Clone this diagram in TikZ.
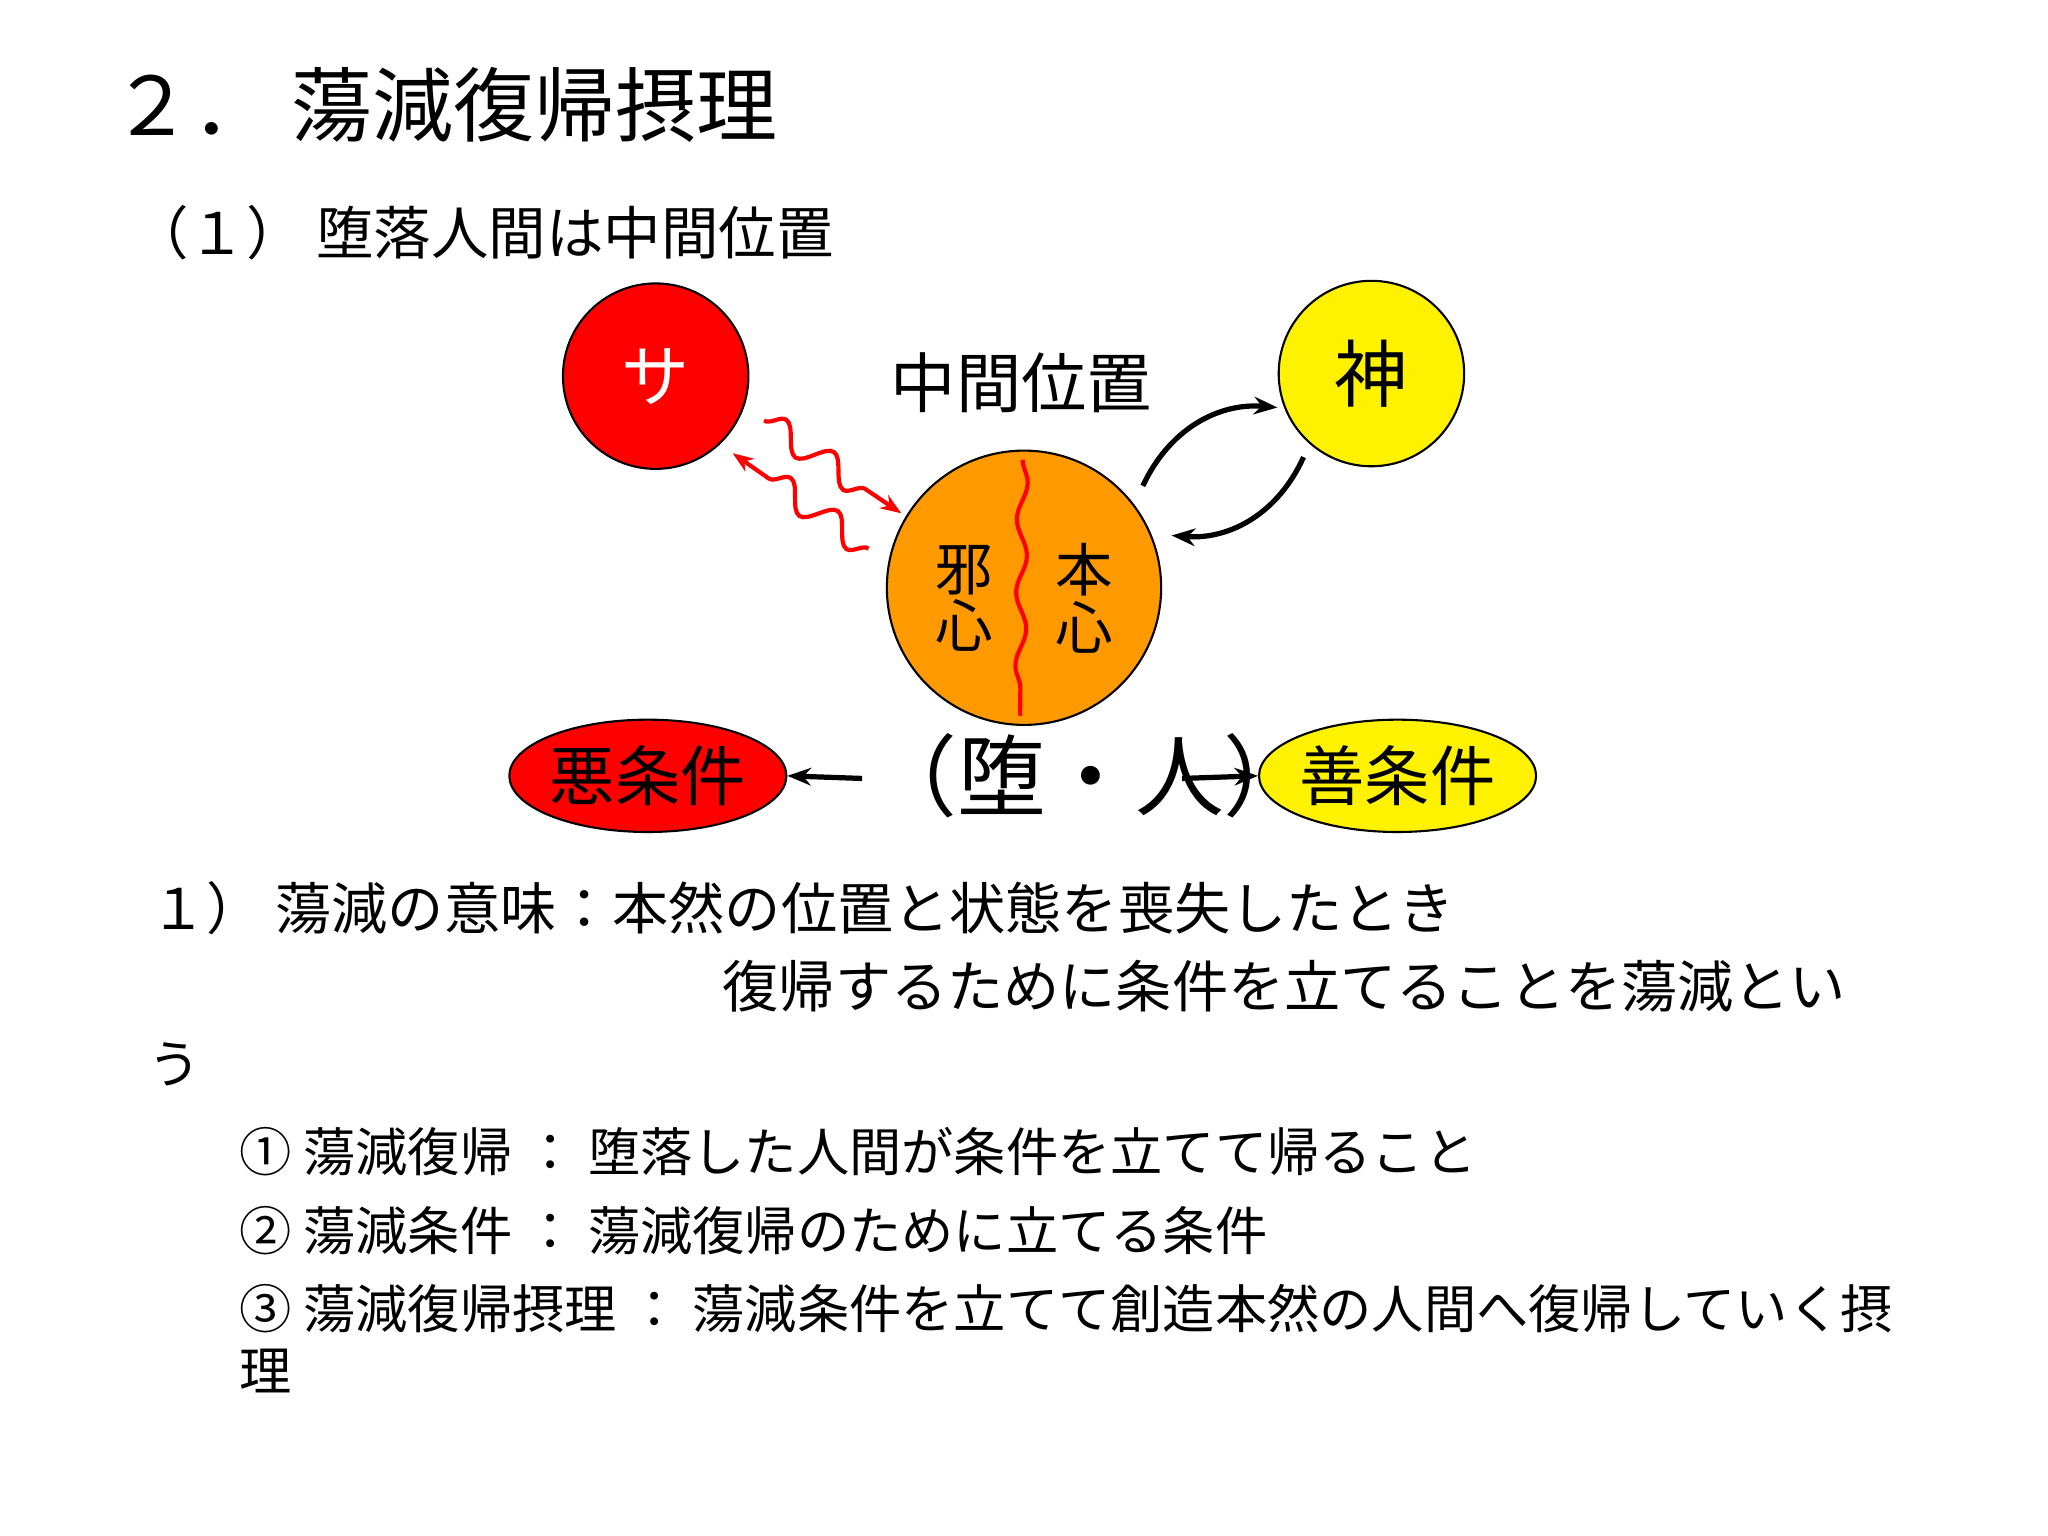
\documentclass[tikz,border=0pt]{standalone}
\usepackage{fontspec}
\setmainfont{Noto Sans CJK JP}
\usetikzlibrary{decorations.pathmorphing,arrows.meta,shapes.geometric}
\definecolor{orng}{RGB}{255,153,0}
\begin{document}
\begin{tikzpicture}[x=0.5pt,y=-0.5pt,
  txt/.style={anchor=west,inner sep=0},
  ball/.style={circle,draw=black,thick,inner sep=0},
  wave/.style={red,line width=1.6pt,decorate,decoration={snake,amplitude=5pt,segment length=22pt,post length=6pt},-{Stealth[length=8pt]}},
  barrow/.style={black,line width=2pt,-{Stealth[length=9pt]}}]
\useasboundingbox (0,0) rectangle (1568,1176);
\node[txt,font=\fontsize{31}{31}\selectfont] (title) at (85,80) {２．\ 蕩減復帰摂理};
\node[txt,font=\fontsize{22}{22}\selectfont] (sub) at (100,178) {（１）\ 堕落人間は中間位置};
\node[ball,fill=red,minimum size=71pt,font=\fontsize{26}{26}\selectfont\color{white}] (sa) at (502,288) {サ};
\node[ball,fill=yellow,minimum size=71pt,font=\fontsize{28}{28}\selectfont] (kami) at (1050,286) {神};
\node[ball,fill=orng,minimum size=105pt] (man) at (784,450) {};
\node[font=\fontsize{25}{25}\selectfont,inner sep=0] (mid) at (782,293) {中間位置};
\draw[red,line width=1.6pt,decorate,decoration={snake,amplitude=2pt,segment length=28pt}] (783,352) -- (781,548);
\node[font=\fontsize{22}{22}\selectfont,align=center,inner sep=0] (ja) at (738,458) {邪\\心};
\node[font=\fontsize{22}{22}\selectfont,align=center,inner sep=0] (hon) at (830,458) {本\\心};
\coordinate (w1a) at (585,322); \coordinate (w1b) at (690,393);
\coordinate (w2a) at (665,420); \coordinate (w2b) at (561,347);
\draw[wave] (w1a) -- (w1b);
\draw[wave] (w2a) -- (w2b);
\draw[barrow] (875,372) to[bend left=35] (978,312);
\draw[barrow] (998,350) to[bend left=35] (897,410);
\node[ellipse,draw=black,thick,fill=red,minimum width=98pt,minimum height=43pt,inner sep=0,font=\fontsize{25}{25}\selectfont] (aku) at (496,594) {悪条件};
\node[ellipse,draw=black,thick,fill=yellow,minimum width=97pt,minimum height=43pt,inner sep=0,font=\fontsize{25}{25}\selectfont] (zen) at (1070,594) {善条件};
\node[font=\fontsize{34}{34}\selectfont,inner sep=0] (dh) at (835,594) {（堕・人）};
\coordinate (l1) at (660,596); \coordinate (r1) at (905,596);
\draw[barrow] (l1) -- (aku.east);
\draw[barrow] (r1) -- (zen.west);
\begin{scope}[every node/.style={txt,font=\fontsize{20}{20}\selectfont}]
\node[font=\fontsize{21.5}{21.5}\selectfont] (t1) at (115,695) {１）\ 蕩減の意味：本然の位置と状態を喪失したとき};
\node[font=\fontsize{21.5}{21.5}\selectfont] (t2) at (553,755) {復帰するために条件を立てることを蕩減とい};
\node (t3) at (113,815) {う};
\node (t4) at (183,882) {① 蕩減復帰\ ：\ 堕落した人間が条件を立てて帰ること};
\node (t5) at (183,942) {② 蕩減条件\ ：\ 蕩減復帰のために立てる条件};
\node (t6) at (183,1002) {③ 蕩減復帰摂理\ ：\ 蕩減条件を立てて創造本然の人間へ復帰していく摂};
\node (t7) at (183,1050) {理};
\end{scope}
\end{tikzpicture}
\end{document}
